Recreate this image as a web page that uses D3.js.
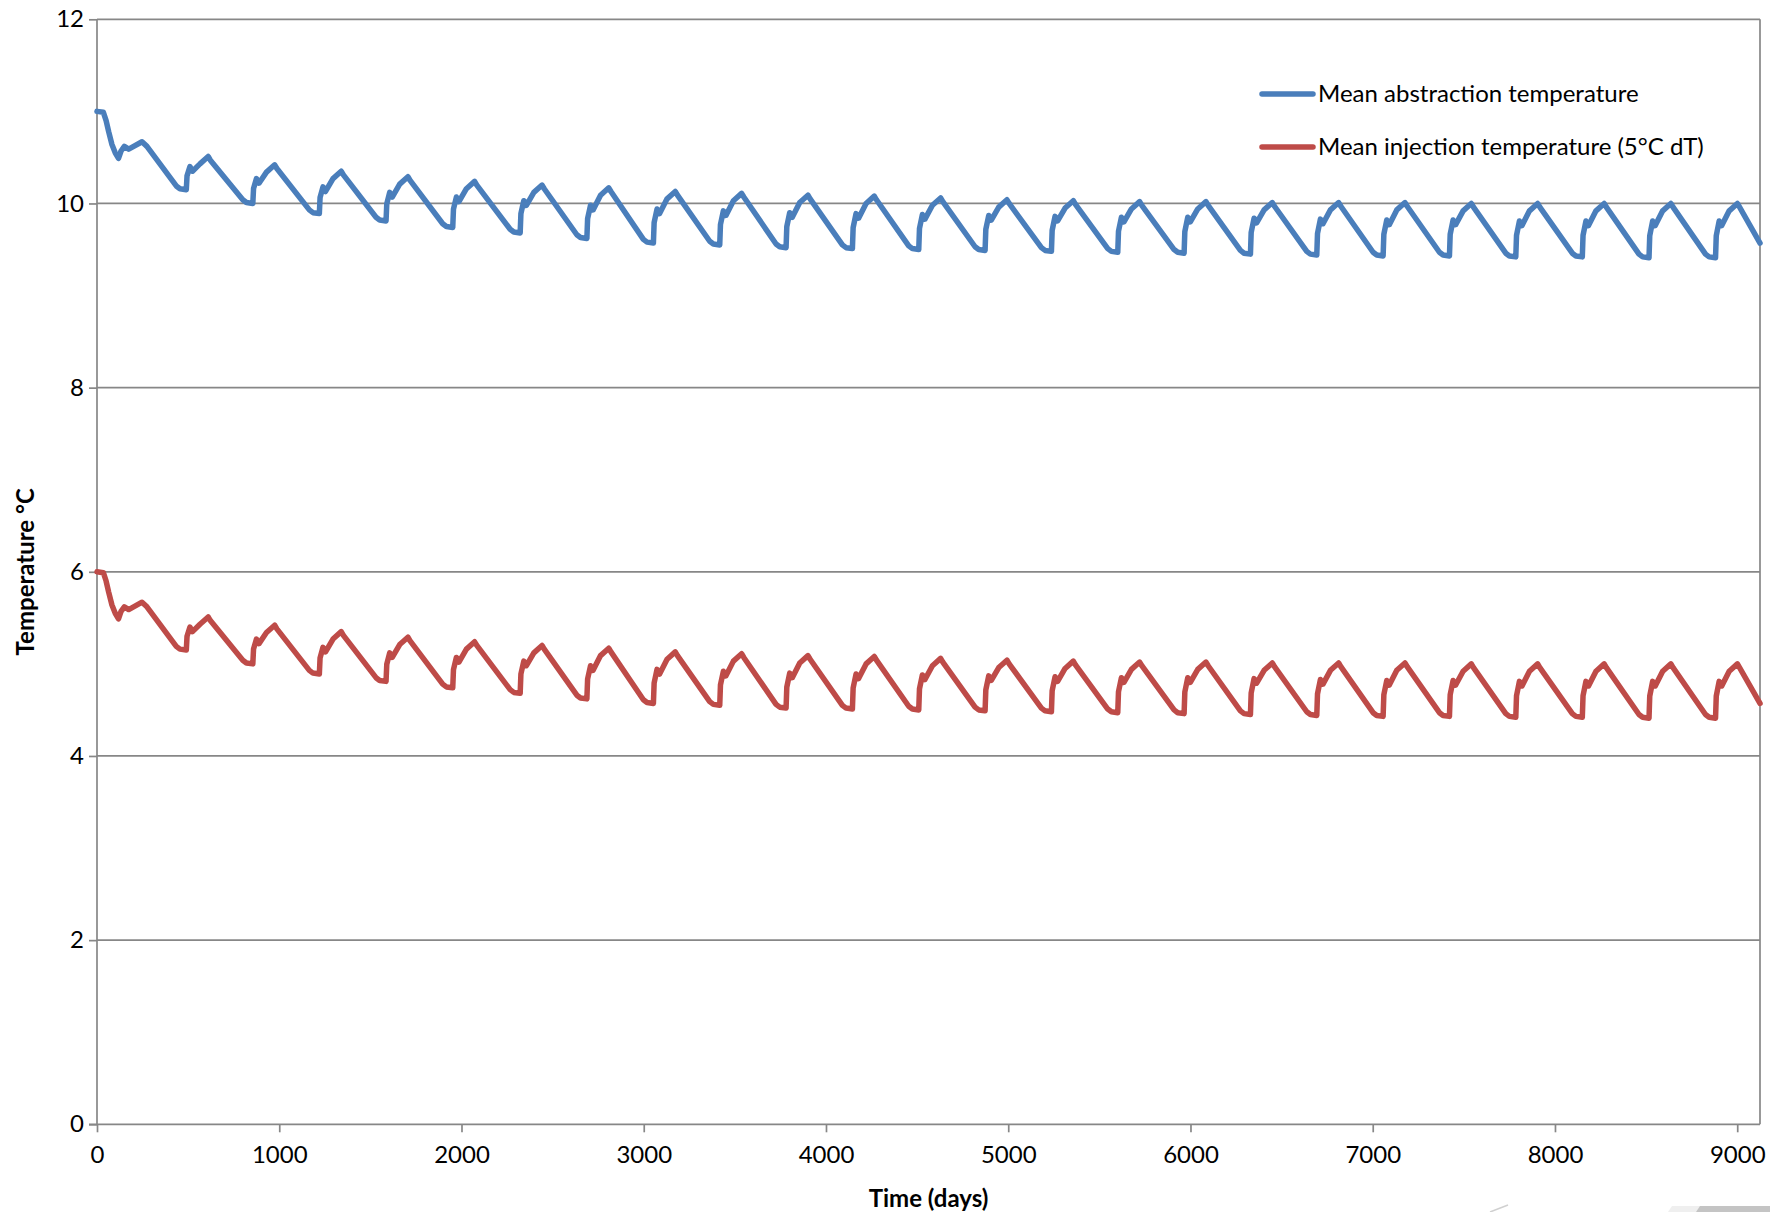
<!DOCTYPE html>
<html>
<head>
<meta charset="utf-8">
<script src="https://cdn.jsdelivr.net/npm/d3@7"></script>
<style>
  html, body { margin: 0; padding: 0; background: #fff; overflow: hidden; }
  svg { display: block; }
  text { font-family: Lato, "Open Sans", sans-serif; fill: #000; }
</style>
</head>
<body>
<svg id="chart" width="1770" height="1212"></svg>
<script>
// ---- Data (temperatures in °C, time in days) ----
const seriesNames = ["Mean abstraction temperature", "Mean injection temperature (5°C dT)"];
const xTicks = [0, 1000, 2000, 3000, 4000, 5000, 6000, 7000, 8000, 9000];
const yTicks = [0, 2, 4, 6, 8, 10, 12];
const lastDay = 9125;

// Initial settling period before the first seasonal cycle: [day, temperature]
const abstractionStart = [[0, 11.0], [35, 10.99], [50, 10.90], [64, 10.78], [82, 10.64], [100, 10.55],
  [118, 10.49], [132, 10.57], [150, 10.62], [174, 10.59], [247, 10.67], [274, 10.62]];
const injectionStart = [[0, 6.0], [35, 5.99], [50, 5.90], [64, 5.78], [82, 5.64], [100, 5.55],
  [118, 5.49], [132, 5.57], [150, 5.62], [174, 5.59], [247, 5.67], [274, 5.62]];

// Day on which each yearly warm-up step begins
const cycleStartDays = [490, 855, 1220, 1586, 1952, 2322, 2688, 3053, 3417, 3781, 4145, 4509,
  4873, 5237, 5601, 5965, 6329, 6693, 7057, 7421, 7785, 8150, 8516, 8881];

// Per-cycle readings: trough before the step, top of the step, seasonal peak
const abstractionTroughs = [10.15, 10.00, 9.89, 9.81, 9.74, 9.68, 9.62, 9.57, 9.55, 9.52, 9.51, 9.50,
  9.49, 9.48, 9.47, 9.46, 9.45, 9.44, 9.43, 9.43, 9.42, 9.42, 9.41, 9.41];
const abstractionSteps = [10.40, 10.27, 10.18, 10.12, 10.07, 10.03, 9.98, 9.94, 9.92, 9.90, 9.89, 9.88,
  9.87, 9.86, 9.85, 9.85, 9.84, 9.83, 9.82, 9.82, 9.81, 9.81, 9.81, 9.81];
const abstractionPeaks = [10.51, 10.42, 10.35, 10.29, 10.24, 10.20, 10.17, 10.13, 10.11, 10.09, 10.08, 10.06,
  10.04, 10.03, 10.02, 10.02, 10.01, 10.01, 10.01, 10.00, 10.00, 10.00, 10.00, 10.00];
const abstractionEnd = 9.57;

const injectionTroughs = [5.15, 5.00, 4.89, 4.81, 4.74, 4.68, 4.62, 4.57, 4.55, 4.52, 4.51, 4.50,
  4.49, 4.48, 4.47, 4.46, 4.45, 4.44, 4.43, 4.43, 4.42, 4.42, 4.41, 4.41];
const injectionSteps = [5.40, 5.27, 5.18, 5.12, 5.07, 5.03, 4.98, 4.94, 4.92, 4.90, 4.89, 4.88,
  4.87, 4.86, 4.85, 4.85, 4.84, 4.83, 4.82, 4.82, 4.81, 4.81, 4.81, 4.81];
const injectionPeaks = [5.51, 5.42, 5.35, 5.29, 5.24, 5.20, 5.17, 5.13, 5.11, 5.09, 5.08, 5.06,
  5.04, 5.03, 5.02, 5.02, 5.01, 5.01, 5.01, 5.00, 5.00, 5.00, 5.00, 5.00];
const injectionEnd = 4.57;

// Timing of the features inside one yearly cycle (days after the step begins)
const stepMidLag = 4, stepMidShare = 0.6;
const stepTopLag = 20, notchLag = 34, notchDepth = 0.05;
const shoulderLag = 75, shoulderDrop = 0.08;
const peakLag = 120, postPeakLag = 132, postPeakDrop = 0.04;
const troughHold = 35, troughEaseLag = 55, troughEaseRise = 0.04;

function buildSeries(start, troughs, steps, peaks, endValue) {
  const pts = start.slice();
  cycleStartDays.forEach((d, i) => {
    pts.push([d - troughEaseLag, troughs[i] + troughEaseRise]);
    pts.push([d - troughHold, troughs[i] + 0.01]);
    pts.push([d, troughs[i]]);
    pts.push([d + stepMidLag, troughs[i] + stepMidShare * (steps[i] - troughs[i])]);
    pts.push([d + stepTopLag, steps[i]]);
    pts.push([d + notchLag, steps[i] - notchDepth]);
    pts.push([d + shoulderLag, Math.max(peaks[i] - shoulderDrop, steps[i] - notchDepth + 0.02)]);
    pts.push([d + peakLag, peaks[i]]);
    pts.push([d + postPeakLag, peaks[i] - postPeakDrop]);
  });
  pts.push([lastDay, endValue]);
  return pts;
}

const abstraction = buildSeries(abstractionStart, abstractionTroughs, abstractionSteps, abstractionPeaks, abstractionEnd);
const injection = buildSeries(injectionStart, injectionTroughs, injectionSteps, injectionPeaks, injectionEnd);

// ---- Layout ----
const svg = d3.select("#chart");
const plot = { left: 97, right: 1760, top: 19.3, bottom: 1124.3 };
const gridColor = "#878787";
const colors = ["#4A7EBB", "#BE4B48"];
const fontSize = "24px";

const x = d3.scaleLinear().domain([0, lastDay]).range([plot.left, plot.right]);
const y = d3.scaleLinear().domain([0, 12]).range([plot.bottom, plot.top]);

// Horizontal gridlines
svg.append("g").selectAll("line").data(yTicks.filter(t => t > 0)).join("line")
  .attr("x1", plot.left).attr("x2", plot.right)
  .attr("y1", d => y(d)).attr("y2", d => y(d))
  .attr("stroke", gridColor).attr("stroke-width", 1.7);

// Right border
svg.append("line")
  .attr("x1", plot.right).attr("x2", plot.right)
  .attr("y1", plot.top).attr("y2", plot.bottom)
  .attr("stroke", gridColor).attr("stroke-width", 1.7);

// Axes
const yAxis = d3.axisLeft(y).tickValues(yTicks).tickSize(8).tickPadding(5).tickFormat(d3.format("d"));
const xAxis = d3.axisBottom(x).tickValues(xTicks).tickSize(8).tickPadding(14).tickFormat(d3.format("d"));

const gy = svg.append("g").attr("transform", `translate(${plot.left},0)`).call(yAxis);
const gx = svg.append("g").attr("transform", `translate(0,${plot.bottom})`).call(xAxis);
[gx, gy].forEach(g => {
  g.select(".domain").attr("stroke", gridColor).attr("stroke-width", 1.7);
  g.selectAll(".tick line").attr("stroke", gridColor).attr("stroke-width", 1.7);
  g.selectAll(".tick text").style("font-family", "Lato, sans-serif").style("font-size", fontSize).attr("fill", "#000");
});
gy.select(".domain").attr("d", `M0,${plot.top}V${plot.bottom}`);
gx.select(".domain").attr("d", `M${plot.left - 8},0H${plot.right}`);

// Axis titles
svg.append("text")
  .attr("x", (plot.left + plot.right) / 2).attr("y", 1207)
  .attr("text-anchor", "middle").style("font-size", fontSize).style("font-weight", "bold")
  .text("Time (days)");
svg.append("text")
  .attr("transform", `translate(34,${(plot.top + plot.bottom) / 2}) rotate(-90)`)
  .attr("text-anchor", "middle").style("font-size", fontSize).style("font-weight", "bold")
  .text("Temperature °C");

// Series lines
const line = d3.line().x(d => x(d[0])).y(d => y(d[1])).curve(d3.curveLinear);
[abstraction, injection].forEach((s, i) => {
  svg.append("path").datum(s)
    .attr("d", line)
    .attr("fill", "none")
    .attr("stroke", colors[i])
    .attr("stroke-width", 5.5)
    .attr("stroke-linejoin", "round")
    .attr("stroke-linecap", "round");
});

// Legend
const legend = svg.append("g");
seriesNames.forEach((name, i) => {
  const ly = 94 + i * 53;
  legend.append("line")
    .attr("x1", 1262).attr("x2", 1313).attr("y1", ly).attr("y2", ly)
    .attr("stroke", colors[i]).attr("stroke-width", 5.5).attr("stroke-linecap", "round");
  legend.append("text")
    .attr("x", 1318).attr("y", ly).attr("dy", "0.35em")
    .style("font-size", fontSize)
    .text(name);
});

// Page decoration along the lower right edge
const deco = svg.append("g");
deco.append("line").attr("x1", 1490).attr("y1", 1212).attr("x2", 1508).attr("y2", 1205)
  .attr("stroke", "#d0d0d0").attr("stroke-width", 1.5);
deco.append("polygon").attr("points", "1668,1212 1672,1206 1770,1206 1770,1212").attr("fill", "#efefef");
deco.append("polygon").attr("points", "1696,1212 1700,1206 1770,1206 1770,1212").attr("fill", "#c4c4c4");
</script>
</body>
</html>
